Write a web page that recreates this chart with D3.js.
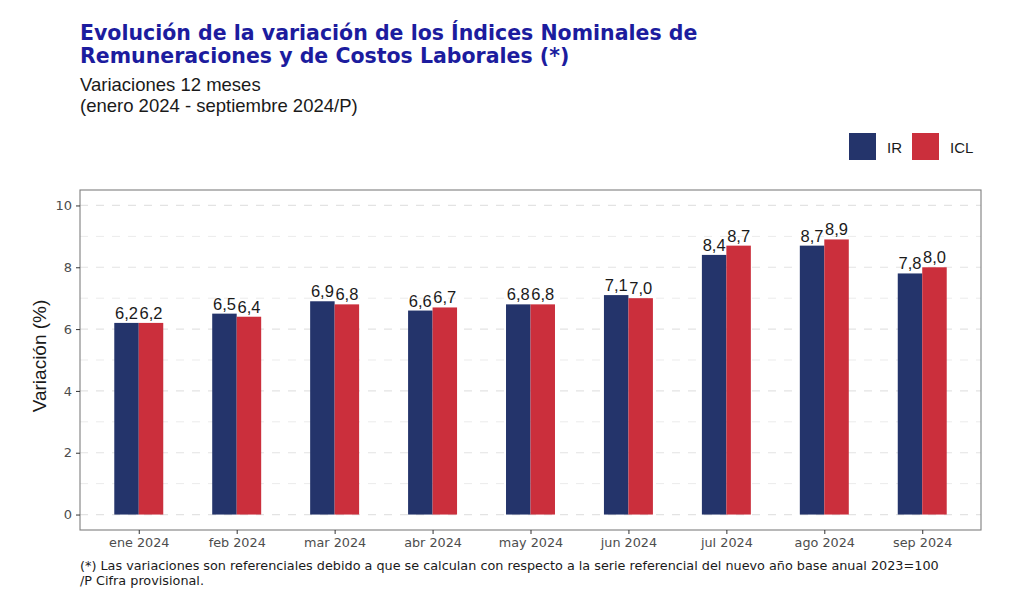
<!DOCTYPE html>
<html><head><meta charset="utf-8">
<script src="https://cdn.jsdelivr.net/npm/d3@7"></script>
<style>body{margin:0;background:#fff;} svg{display:block;}</style>
</head><body>
<svg id="c" width="1024" height="598"></svg>
<script>
const categories = ["ene 2024","feb 2024","mar 2024","abr 2024","may 2024","jun 2024","jul 2024","ago 2024","sep 2024"];
const seriesNames = ["IR","ICL"];
const irValues  = [6.2,6.5,6.9,6.6,6.8,7.1,8.4,8.7,7.8];
const iclValues = [6.2,6.4,6.8,6.7,6.8,7.0,8.7,8.9,8.0];
const yTicks = [0,2,4,6,8,10];
const colors = ["#24346b","#cb2f3c"];

const svg = d3.select("#c");
const L=80, R=981, T=190, B=530;
const n = categories.length;
const x = d3.scaleLinear().domain([-0.6, n-1+0.6]).range([L,R]);
const y = d3.scaleLinear().domain([-0.5,10.5]).range([B,T]);
const bw = 0.25;

// grid
const minor = [1,3,5,7,9];
svg.append("g").selectAll("line").data(minor).join("line")
  .attr("x1",L).attr("x2",R).attr("y1",d=>y(d)).attr("y2",d=>y(d))
  .attr("stroke","#ebebeb").attr("stroke-width",1).attr("stroke-dasharray","8,8");
svg.append("g").selectAll("line").data(yTicks).join("line")
  .attr("x1",L).attr("x2",R).attr("y1",d=>y(d)).attr("y2",d=>y(d))
  .attr("stroke","#e3e3e3").attr("stroke-width",1.2).attr("stroke-dasharray","8,8");

const data = [];
categories.forEach((c,i)=>{
  data.push({i, s:0, v:irValues[i]});
  data.push({i, s:1, v:iclValues[i]});
});
svg.append("g").selectAll("rect").data(data).join("rect")
  .attr("x",d=>x(d.i + (d.s===0 ? -bw : 0)))
  .attr("width",d=>x(bw)-x(0))
  .attr("y",d=>y(d.v)).attr("height",d=>y(0)-y(d.v))
  .attr("fill",d=>colors[d.s]);

svg.append("g").selectAll("text").data(data).join("text")
  .attr("x",d=>x(d.i + (d.s===0 ? -bw/2 : bw/2)))
  .attr("y",d=>y(d.v)-4)
  .attr("text-anchor","middle")
  .attr("font-family","Liberation Sans, Arial, sans-serif")
  .attr("font-size",16.5).attr("fill","#1a1a1a")
  .text(d=>d.v.toFixed(1).replace(".",","));

// panel border
svg.append("rect").attr("x",L).attr("y",T).attr("width",R-L).attr("height",B-T)
  .attr("fill","none").attr("stroke","#7f7f7f").attr("stroke-width",1.1);

// y axis
const yAxis = svg.append("g").attr("transform",`translate(${L},0)`)
  .call(d3.axisLeft(y).tickValues(yTicks).tickSize(4).tickPadding(4).tickFormat(d3.format("d")));
yAxis.select(".domain").remove();
yAxis.selectAll("line").attr("stroke","#333");
yAxis.selectAll("text").attr("font-family","DejaVu Sans, sans-serif").attr("font-size",13).attr("fill","#4d4d4d");

// x axis
const xAxis = svg.append("g").attr("transform",`translate(0,${B})`)
  .call(d3.axisBottom(x).tickValues(d3.range(n)).tickSize(4).tickPadding(4).tickFormat(i=>categories[i]));
xAxis.select(".domain").remove();
xAxis.selectAll("line").attr("stroke","#333");
xAxis.selectAll("text").attr("font-family","DejaVu Sans, sans-serif").attr("font-size",12.8).attr("fill","#4d4d4d");

// axis title
svg.append("text").attr("transform",`translate(46,356) rotate(-90)`)
  .attr("text-anchor","middle").attr("font-family","Liberation Sans, Arial, sans-serif")
  .attr("font-size",19).attr("fill","#1a1a1a").text("Variación (%)");

// titles
const title = svg.append("text").attr("font-family","DejaVu Sans, sans-serif").attr("font-weight","bold")
  .attr("font-size",20.5).attr("fill","#1c1c9e");
title.append("tspan").attr("x",80).attr("y",40).text("Evolución de la variación de los Índices Nominales de");
title.append("tspan").attr("x",80).attr("y",63).text("Remuneraciones y de Costos Laborales (*)");
const sub = svg.append("text").attr("font-family","Liberation Sans, Arial, sans-serif").attr("font-size",18.5).attr("fill","#1a1a1a");
sub.append("tspan").attr("x",80).attr("y",91).text("Variaciones 12 meses");
sub.append("tspan").attr("x",80).attr("y",112).text("(enero 2024 - septiembre 2024/P)");

// legend
const legX = [849, 912];
seriesNames.forEach((s,k)=>{
  svg.append("rect").attr("x",legX[k]).attr("y",133).attr("width",27).attr("height",27).attr("fill",colors[k]);
  svg.append("text").attr("x",legX[k]+38).attr("y",152.5).attr("font-family","Liberation Sans, Arial, sans-serif")
    .attr("font-size",15).attr("fill","#1a1a1a").text(s);
});

// footnote
const fn = svg.append("text").attr("font-family","DejaVu Sans, sans-serif").attr("font-size",12.8).attr("fill","#1a1a1a");
fn.append("tspan").attr("x",80).attr("y",570).text("(*) Las variaciones son referenciales debido a que se calculan con respecto a la serie referencial del nuevo año base anual 2023=100");
fn.append("tspan").attr("x",80).attr("y",585).text("/P Cifra provisional.");
</script>
</body></html>
